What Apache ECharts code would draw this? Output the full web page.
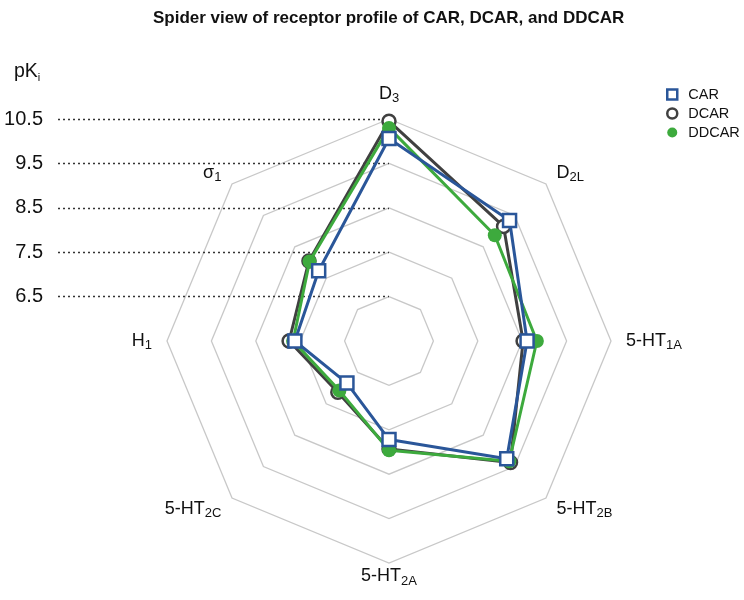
<!DOCTYPE html>
<html>
<head>
<meta charset="utf-8">
<script src="https://cdn.jsdelivr.net/npm/echarts@6/dist/echarts.min.js"></script>
<style>html,body{margin:0;padding:0;background:#fff}#chart{width:744px;height:600px}</style>
</head>
<body>
<div id="chart"></div>
<script>
// Receptors, clockwise from top (base_subscript)
var receptors = ['D_3', 'D_2L', '5-HT_1A', '5-HT_2B', '5-HT_2A', '5-HT_2C', 'H_1', 'σ_1'];
// pKi values, same order as receptors
var carValues   = [10.06, 9.34, 8.61, 9.25, 7.72, 6.84, 7.62, 7.74];
var dcarValues  = [10.45, 9.15, 8.52, 9.37, 7.93, 7.13, 7.75, 8.05];
var ddcarValues = [10.30, 8.87, 8.83, 9.33, 7.96, 7.08, 7.66, 8.03];
var tickValues  = [6.5, 7.5, 8.5, 9.5, 10.5];
var axisMin = 5.5, axisMax = 10.5;

// ECharts radar lays indicators counter-clockwise: reorder to keep the clockwise look
function ccw(arr) { return [arr[0]].concat(arr.slice(1).reverse()); }

var FONT = 'Arial, "Liberation Sans", sans-serif';
var blue = '#2a5699', dark = '#404040', green = '#3daa3d';

var chart = echarts.init(document.getElementById('chart'));
chart.setOption({
  backgroundColor: '#fff',
  textStyle: { fontFamily: FONT },
  title: [
    { text: 'Spider view of receptor profile of CAR, DCAR, and DDCAR', left: 148, top: 5,
      textStyle: { fontSize: 17, fontWeight: 'bold', color: '#111', fontFamily: FONT } },
    { text: '{a|pK}{b|i}', left: 9, top: 56,
      textStyle: { fontFamily: FONT, fontWeight: 'normal', rich: {
        a: { fontSize: 19.5, fontWeight: 'normal', color: '#111', lineHeight: 22, verticalAlign: 'middle', fontFamily: FONT },
        b: { fontSize: 11, fontWeight: 'normal', color: '#111', lineHeight: 11, verticalAlign: 'bottom', fontFamily: FONT } } } }
  ],
  legend: {
    orient: 'vertical', left: 661, top: 82, itemWidth: 10, itemHeight: 10, itemGap: 4,
    selectedMode: false,
    textStyle: { fontSize: 14.5, color: '#111', fontFamily: FONT, padding: [0, 0, 0, 6] },
    data: [
      { name: 'CAR', icon: 'rect', itemStyle: { color: '#fff', borderColor: blue, borderWidth: 2.5 } },
      { name: 'DCAR', icon: 'circle', itemStyle: { color: '#fff', borderColor: dark, borderWidth: 2.5 } },
      { name: 'DDCAR', icon: 'circle', itemStyle: { color: green, borderColor: green, borderWidth: 0 } }
    ]
  },
  grid: { left: 58, right: 744 - 389, top: 341 - 222, bottom: 600 - 341, containLabel: false },
  xAxis: { type: 'value', show: false, min: 0, max: 1 },
  yAxis: {
    type: 'value', min: axisMin, max: axisMax,
    axisLine: { show: false },
    axisTick: { show: false, customValues: tickValues },
    axisLabel: { customValues: tickValues, fontSize: 20, color: '#111', margin: 15, fontFamily: FONT,
      formatter: function (v) { return v.toFixed(1); } },
    splitLine: { show: true, customValues: tickValues, lineStyle: { type: [2, 3], color: '#333', width: 1.3 } }
  },
  radar: {
    center: [389, 341], radius: 222, startAngle: 90, splitNumber: 5, shape: 'polygon',
    indicator: ccw(receptors).map(function (r) { return { name: r, min: axisMin, max: axisMax }; }),
    axisLine: { show: false },
    axisTick: { show: false },
    axisLabel: { show: false },
    splitArea: { show: false },
    splitLine: { lineStyle: { color: '#c8c8c8', width: 1.3 } },
    axisNameGap: 15,
    axisName: {
      color: '#111', fontFamily: FONT,
      formatter: function (name) {
        var p = name.split('_');
        // bottom label sits a little closer to the web
        var k = name === '5-HT_2A' ? 'b' : '';
        return '{m' + k + '|' + p[0] + '}{s' + k + '|' + p[1] + '}';
      },
      rich: {
        m: { fontSize: 18, lineHeight: 20, verticalAlign: 'middle', color: '#111', fontFamily: FONT },
        s: { fontSize: 13, lineHeight: 10, verticalAlign: 'top', padding: [8, 0, 0, 0], color: '#111', fontFamily: FONT },
        mb: { fontSize: 18, lineHeight: 10, verticalAlign: 'bottom', padding: [0, 0, 3, 0], color: '#111', fontFamily: FONT },
        sb: { fontSize: 13, lineHeight: 10, verticalAlign: 'bottom', color: '#111', fontFamily: FONT }
      }
    }
  },
  series: [
    { type: 'radar', name: 'DCAR', z: 2, symbol: 'circle', symbolSize: 13,
      lineStyle: { color: dark, width: 3 },
      itemStyle: { color: '#fff', borderColor: dark, borderWidth: 2.5 },
      data: [{ name: 'DCAR', value: ccw(dcarValues) }] },
    { type: 'radar', name: 'DDCAR', z: 3, symbol: 'circle', symbolSize: 14,
      lineStyle: { color: green, width: 3 },
      itemStyle: { color: green, borderColor: green, borderWidth: 0 },
      data: [{ name: 'DDCAR', value: ccw(ddcarValues) }] },
    { type: 'radar', name: 'CAR', z: 4, symbol: 'rect', symbolSize: 13,
      lineStyle: { color: blue, width: 3 },
      itemStyle: { color: '#fff', borderColor: blue, borderWidth: 2.5 },
      data: [{ name: 'CAR', value: ccw(carValues) }] }
  ]
});
</script>
</body>
</html>
